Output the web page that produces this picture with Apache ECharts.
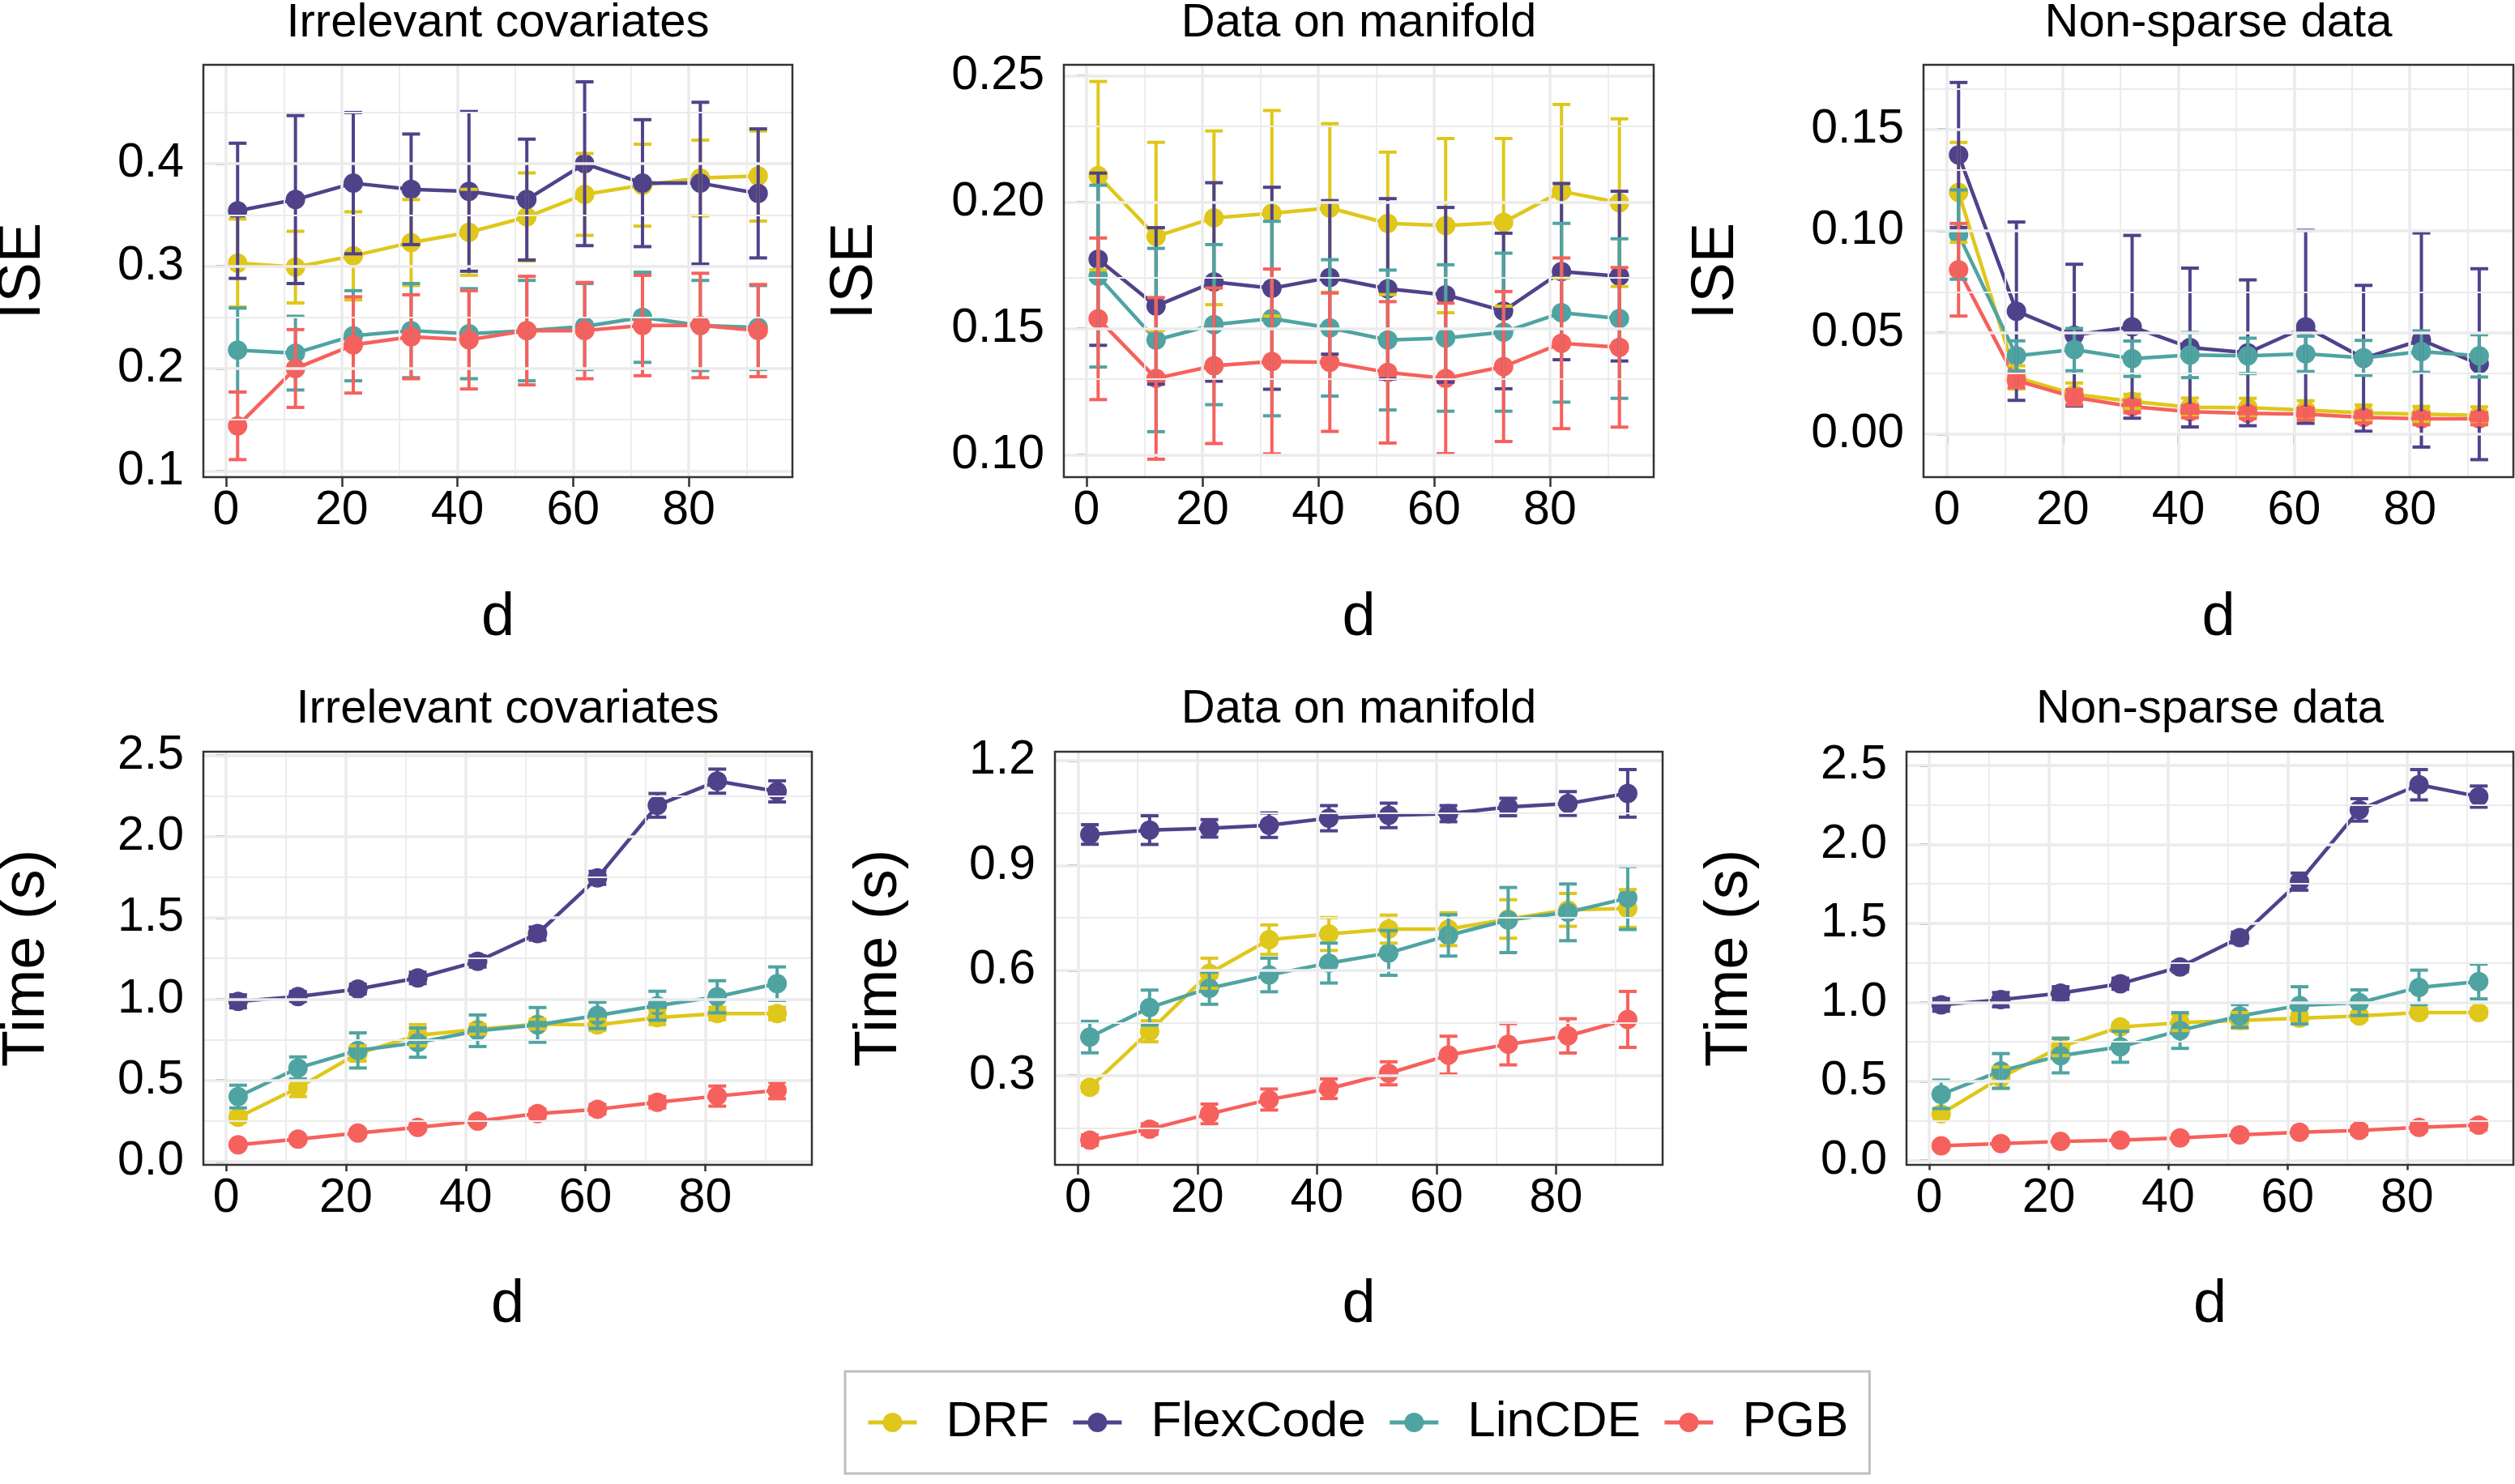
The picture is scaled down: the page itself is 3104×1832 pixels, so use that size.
<!DOCTYPE html>
<html lang="en">
<head>
    <meta charset="UTF-8">
    <title>ISE and time</title>
    <script src="https://cdn.jsdelivr.net/npm/echarts@6.0.0/dist/echarts.min.js"></script>
    <style>html,body{margin:0;padding:0;background:#fff;}</style>
</head>
<body>
    <div id="main" style="width:3104px;height:1832px;"></div>
</body>
<script>
    // x values and axis breaks
    var d = [2, 12, 22, 32, 42, 52, 62, 72, 82, 92];
    var xTicks = [0, 20, 40, 60, 80];
    var xMinor = [10, 30, 50, 70, 90];
    var methods = ['DRF', 'FlexCode', 'LinCDE', 'PGB'];

    // ISE - Irrelevant covariates
    var iseIrrTicks = [0.1, 0.2, 0.3, 0.4];
    var iseIrrMinor = [0.15, 0.25, 0.35, 0.45];
    var iseIrrDRF = [0.303, 0.299, 0.310, 0.323, 0.333, 0.348, 0.370, 0.379, 0.386, 0.388];
    var iseIrrDRFsd = [0.043, 0.035, 0.043, 0.042, 0.042, 0.043, 0.040, 0.040, 0.037, 0.044];
    var iseIrrFlex = [0.354, 0.365, 0.381, 0.375, 0.373, 0.365, 0.400, 0.381, 0.381, 0.371];
    var iseIrrFlexSd = [0.066, 0.082, 0.069, 0.054, 0.078, 0.059, 0.080, 0.062, 0.079, 0.063];
    var iseIrrLin = [0.218, 0.215, 0.232, 0.237, 0.234, 0.237, 0.241, 0.250, 0.242, 0.240];
    var iseIrrLinSd = [0.041, 0.036, 0.044, 0.046, 0.044, 0.049, 0.042, 0.044, 0.044, 0.041];
    var iseIrrPGB = [0.144, 0.200, 0.223, 0.231, 0.228, 0.237, 0.237, 0.242, 0.242, 0.237];
    var iseIrrPGBsd = [0.033, 0.038, 0.047, 0.041, 0.048, 0.053, 0.047, 0.049, 0.051, 0.045];

    // ISE - Data on manifold
    var iseManTicks = [0.10, 0.15, 0.20, 0.25];
    var iseManMinor = [0.125, 0.175, 0.225];
    var iseManDRF = [0.2105, 0.1864, 0.1938, 0.1956, 0.1977, 0.1916, 0.1907, 0.1920, 0.2043, 0.1998];
    var iseManDRFsd = [0.0373, 0.0373, 0.0344, 0.0407, 0.0334, 0.0282, 0.0345, 0.0332, 0.0344, 0.0332];
    var iseManFlex = [0.1774, 0.1589, 0.1684, 0.1659, 0.1702, 0.1657, 0.1633, 0.1569, 0.1725, 0.1707];
    var iseManFlexSd = [0.0341, 0.0310, 0.0393, 0.0400, 0.0304, 0.0357, 0.0346, 0.0308, 0.0349, 0.0336];
    var iseManLin = [0.1707, 0.1454, 0.1515, 0.1539, 0.1502, 0.1454, 0.1462, 0.1485, 0.1562, 0.1539];
    var iseManLinSd = [0.0360, 0.0363, 0.0317, 0.0385, 0.0270, 0.0277, 0.0290, 0.0313, 0.0354, 0.0316];
    var iseManPGB = [0.1538, 0.1302, 0.1352, 0.1369, 0.1366, 0.1326, 0.1302, 0.1349, 0.1441, 0.1425];
    var iseManPGBsd = [0.0320, 0.0320, 0.0308, 0.0366, 0.0274, 0.0280, 0.0298, 0.0297, 0.0338, 0.0316];

    // ISE - Non-sparse data
    var iseNonTicks = [0.00, 0.05, 0.10, 0.15];
    var iseNonMinor = [0.025, 0.075, 0.125, 0.175];
    var iseNonDRF = [0.1190, 0.0279, 0.0196, 0.0161, 0.0132, 0.0130, 0.0118, 0.0104, 0.0098, 0.0092];
    var iseNonDRFsd = [0.0246, 0.0057, 0.0055, 0.0035, 0.0045, 0.0046, 0.0046, 0.0039, 0.0038, 0.0042];
    var iseNonFlex = [0.1374, 0.0605, 0.0487, 0.0528, 0.0426, 0.0400, 0.0528, 0.0373, 0.0463, 0.0344];
    var iseNonFlexSd = [0.0357, 0.0439, 0.0349, 0.0450, 0.0391, 0.0359, 0.0475, 0.0359, 0.0527, 0.0470];
    var iseNonLin = [0.0982, 0.0385, 0.0416, 0.0371, 0.0389, 0.0385, 0.0395, 0.0375, 0.0406, 0.0385];
    var iseNonLinSd = [0.0220, 0.0074, 0.0104, 0.0087, 0.0111, 0.0087, 0.0087, 0.0086, 0.0102, 0.0104];
    var iseNonPGB = [0.0809, 0.0263, 0.0181, 0.0135, 0.0110, 0.0102, 0.0098, 0.0082, 0.0075, 0.0075];
    var iseNonPGBsd = [0.0228, 0.0034, 0.0038, 0.0030, 0.0030, 0.0026, 0.0029, 0.0027, 0.0029, 0.0029];

    // Time - Irrelevant covariates
    var timeTicks = [0.0, 0.5, 1.0, 1.5, 2.0, 2.5];
    var timeMinor = [0.25, 0.75, 1.25, 1.75, 2.25];
    var timeIrrDRF = [0.273, 0.454, 0.665, 0.778, 0.814, 0.846, 0.841, 0.886, 0.911, 0.911];
    var timeIrrDRFsd = [0.030, 0.054, 0.047, 0.065, 0.030, 0.030, 0.035, 0.043, 0.038, 0.038];
    var timeIrrFlex = [0.986, 1.016, 1.062, 1.130, 1.232, 1.403, 1.746, 2.192, 2.341, 2.278];
    var timeIrrFlexSd = [0.040, 0.030, 0.030, 0.035, 0.035, 0.040, 0.040, 0.073, 0.074, 0.065];
    var timeIrrLin = [0.400, 0.576, 0.684, 0.732, 0.805, 0.841, 0.900, 0.959, 1.014, 1.095];
    var timeIrrLinSd = [0.070, 0.068, 0.108, 0.090, 0.097, 0.107, 0.081, 0.089, 0.099, 0.103];
    var timeIrrPGB = [0.103, 0.138, 0.176, 0.211, 0.249, 0.295, 0.322, 0.365, 0.403, 0.438];
    var timeIrrPGBsd = [0.015, 0.015, 0.020, 0.020, 0.022, 0.027, 0.030, 0.035, 0.062, 0.051];

    // Time - Data on manifold
    var timeManTicks = [0.3, 0.6, 0.9, 1.2];
    var timeManMinor = [0.15, 0.45, 0.75, 1.05];
    var timeManDRF = [0.266, 0.426, 0.592, 0.688, 0.704, 0.718, 0.718, 0.747, 0.773, 0.777];
    var timeManDRFsd = [0.012, 0.030, 0.043, 0.042, 0.047, 0.040, 0.047, 0.055, 0.047, 0.054];
    var timeManFlex = [0.9885, 1.001, 1.006, 1.015, 1.035, 1.043, 1.048, 1.067, 1.077, 1.106];
    var timeManFlexSd = [0.028, 0.041, 0.025, 0.035, 0.036, 0.035, 0.023, 0.025, 0.034, 0.068];
    var timeManLin = [0.4095, 0.4938, 0.5492, 0.587, 0.621, 0.650, 0.700, 0.744, 0.766, 0.807];
    var timeManLinSd = [0.045, 0.050, 0.046, 0.048, 0.057, 0.064, 0.059, 0.093, 0.081, 0.090];
    var timeManPGB = [0.115, 0.1464, 0.190, 0.231, 0.262, 0.306, 0.358, 0.389, 0.413, 0.460];
    var timeManPGBsd = [0.015, 0.015, 0.028, 0.030, 0.028, 0.033, 0.054, 0.059, 0.049, 0.080];

    // Time - Non-sparse data
    var timeNonDRF = [0.295, 0.524, 0.719, 0.844, 0.872, 0.886, 0.900, 0.914, 0.936, 0.936];
    var timeNonDRFsd = [0.025, 0.067, 0.056, 0.025, 0.050, 0.050, 0.030, 0.025, 0.025, 0.025];
    var timeNonFlex = [0.984, 1.017, 1.059, 1.118, 1.224, 1.410, 1.764, 2.218, 2.377, 2.302];
    var timeNonFlexSd = [0.040, 0.045, 0.040, 0.035, 0.030, 0.035, 0.054, 0.071, 0.096, 0.067];
    var timeNonLin = [0.418, 0.566, 0.663, 0.719, 0.822, 0.914, 0.981, 0.998, 1.095, 1.132];
    var timeNonLinSd = [0.090, 0.110, 0.109, 0.098, 0.113, 0.072, 0.118, 0.081, 0.109, 0.110];
    var timeNonPGB = [0.092, 0.106, 0.120, 0.128, 0.142, 0.162, 0.178, 0.190, 0.209, 0.223];
    var timeNonPGBsd = [0.015, 0.015, 0.015, 0.015, 0.020, 0.020, 0.020, 0.025, 0.025, 0.030];

    var colors = ['#DFC71B', '#50428A', '#4FA4A2', '#F6615D'];
    var font = 'Liberation Sans';

    var panels = [
        {box: [251, 80, 727, 509], x: [-3.92, 97.92], y: [0.0939, 0.4966], ticks: iseIrrTicks, minor: iseIrrMinor, dec: 1,
            title: 'Irrelevant covariates', yName: 'ISE', nameX: 29,
            lines: [[iseIrrDRF, iseIrrDRFsd], [iseIrrFlex, iseIrrFlexSd], [iseIrrLin, iseIrrLinSd], [iseIrrPGB, iseIrrPGBsd]]},
        {box: [1313, 80, 728, 509], x: [-3.92, 97.92], y: [0.0911, 0.2544], ticks: iseManTicks, minor: iseManMinor, dec: 2,
            title: 'Data on manifold', yName: 'ISE', nameX: 1056,
            lines: [[iseManDRF, iseManDRFsd], [iseManFlex, iseManFlexSd], [iseManLin, iseManLinSd], [iseManPGB, iseManPGBsd]]},
        {box: [2374, 80, 728, 509], x: [-4.06, 97.9], y: [-0.0212, 0.1818], ticks: iseNonTicks, minor: iseNonMinor, dec: 2,
            title: 'Non-sparse data', yName: 'ISE', nameX: 2119,
            lines: [[iseNonDRF, iseNonDRFsd], [iseNonFlex, iseNonFlexSd], [iseNonLin, iseNonLinSd], [iseNonPGB, iseNonPGBsd]]},
        {box: [251, 928, 751, 510], x: [-3.8, 97.8], y: [-0.02, 2.522], ticks: timeTicks, minor: timeMinor, dec: 1,
            title: 'Irrelevant covariates', yName: 'Time (s)', nameX: 34,
            lines: [[timeIrrDRF, timeIrrDRFsd], [timeIrrFlex, timeIrrFlexSd], [timeIrrLin, timeIrrLinSd], [timeIrrPGB, timeIrrPGBsd]]},
        {box: [1302, 928, 750, 510], x: [-3.84, 97.84], y: [0.0444, 1.225], ticks: timeManTicks, minor: timeManMinor, dec: 1,
            title: 'Data on manifold', yName: 'Time (s)', nameX: 1086,
            lines: [[timeManDRF, timeManDRFsd], [timeManFlex, timeManFlexSd], [timeManLin, timeManLinSd], [timeManPGB, timeManPGBsd]]},
        {box: [2353, 928, 749, 510], x: [-3.8, 97.8], y: [-0.028, 2.586], ticks: timeTicks, minor: timeMinor, dec: 1,
            title: 'Non-sparse data', yName: 'Time (s)', nameX: 2136,
            lines: [[timeNonDRF, timeNonDRFsd], [timeNonFlex, timeNonFlexSd], [timeNonLin, timeNonLinSd], [timeNonPGB, timeNonPGBsd]]}
    ];

    function errorBar(params, api) {
        var x = api.value(0);
        var lo = api.coord([x, api.value(1)]);
        var hi = api.coord([x, api.value(2)]);
        var cap = 11;
        var style = {stroke: api.visual('color'), lineWidth: 4};
        return {
            type: 'group',
            children: [
                {type: 'line', shape: {x1: lo[0], y1: hi[1], x2: lo[0], y2: lo[1]}, style: style},
                {type: 'line', shape: {x1: lo[0] - cap, y1: hi[1], x2: lo[0] + cap, y2: hi[1]}, style: style},
                {type: 'line', shape: {x1: lo[0] - cap, y1: lo[1], x2: lo[0] + cap, y2: lo[1]}, style: style}
            ]
        };
    }

    var option = {
        backgroundColor: '#fff',
        animation: false,
        grid: [], xAxis: [], yAxis: [], series: [], graphic: [],
        legend: {
            data: methods,
            left: 1043, top: 1693,
            itemWidth: 60, itemHeight: 30, itemGap: 27,
            padding: [32, 26],
            borderColor: '#BEBEBE', borderWidth: 3,
            selectedMode: false,
            lineStyle: {width: 5},
            textStyle: {fontSize: 62, fontFamily: font, color: '#000', padding: [0, 0, 0, 31]}
        }
    };

    var errSeries = [];
    for (var i = 0; i < panels.length; i++) {
        var p = panels[i];
        option.grid.push({left: p.box[0], top: p.box[1], width: p.box[2], height: p.box[3],
            show: true, borderColor: '#333', borderWidth: 2.5, z: 10});
        option.xAxis.push({
            gridIndex: i, type: 'value', min: p.x[0], max: p.x[1],
            axisLine: {show: false}, splitLine: {show: false},
            axisTick: {show: true, customValues: xTicks, length: 12, lineStyle: {color: '#333', width: 2.5}},
            axisLabel: {customValues: xTicks, margin: 12, fontSize: 59, fontFamily: font, color: '#000'}
        });
        (function (dec) {
            option.yAxis.push({
                gridIndex: i, type: 'value', min: p.y[0], max: p.y[1],
                axisLine: {show: false}, splitLine: {show: false},
                axisTick: {show: true, customValues: p.ticks, length: 12, lineStyle: {color: '#333', width: 2.5}},
                axisLabel: {customValues: p.ticks, margin: 24, fontSize: 59, fontFamily: font, color: '#000',
                    formatter: function (v) { return v.toFixed(dec); }}
            });
        })(p.dec);

        // panel grid lines
        var gl = [];
        xTicks.forEach(function (v) { gl.push({xAxis: v, lineStyle: {width: 3.5}}); });
        xMinor.forEach(function (v) { gl.push({xAxis: v, lineStyle: {width: 1.8}}); });
        p.ticks.forEach(function (v) { gl.push({yAxis: v, lineStyle: {width: 3.5}}); });
        p.minor.forEach(function (v) { gl.push({yAxis: v, lineStyle: {width: 1.8}}); });
        option.series.push({
            type: 'line', name: 'grid' + i, xAxisIndex: i, yAxisIndex: i, data: [], silent: true, z: 1,
            markLine: {silent: true, animation: false, symbol: ['none', 'none'], label: {show: false},
                lineStyle: {color: '#EBEBEB', type: 'solid'}, emphasis: {disabled: true}, data: gl}
        });

        for (var m = 0; m < methods.length; m++) {
            var mean = p.lines[m][0], sd = p.lines[m][1];
            option.series.push({
                type: 'line', name: methods[m], xAxisIndex: i, yAxisIndex: i,
                data: d.map(function (x, k) { return [x, mean[k]]; }),
                symbol: 'circle', symbolSize: 24, showSymbol: true, showAllSymbol: true,
                lineStyle: {width: 4.5, color: colors[m]}, itemStyle: {color: colors[m]},
                emphasis: {disabled: true}, z: 2
            });
            errSeries.push({
                type: 'custom', name: methods[m] + ' sd', xAxisIndex: i, yAxisIndex: i,
                data: d.map(function (x, k) { return [x, mean[k] - sd[k], mean[k] + sd[k]]; }),
                renderItem: errorBar, encode: {x: 0, y: [1, 2]}, clip: false,
                itemStyle: {color: colors[m]}, silent: true, z: 3
            });
        }

        var cx = p.box[0] + p.box[2] / 2;
        var row = i < 3 ? 0 : 1;
        option.graphic.push({type: 'text', x: cx, y: row === 0 ? 29 : 876,
            style: {text: p.title, fontSize: 58, fontFamily: font, fill: '#000', align: 'center', verticalAlign: 'middle'}});
        option.graphic.push({type: 'text', x: cx, y: row === 0 ? 764 : 1612,
            style: {text: 'd', fontSize: 74, fontFamily: font, fill: '#000', align: 'center', verticalAlign: 'middle'}});
        option.graphic.push({type: 'text', x: p.nameX, y: p.box[1] + p.box[3] / 2, rotation: Math.PI / 2,
            style: {text: p.yName, fontSize: 74, fontFamily: font, fill: '#000', align: 'center', verticalAlign: 'middle'}});
    }
    option.series = option.series.concat(errSeries);

    var myChart = echarts.init(document.getElementById('main'), null, {renderer: 'canvas'});
    myChart.setOption(option);
</script>
</html>
